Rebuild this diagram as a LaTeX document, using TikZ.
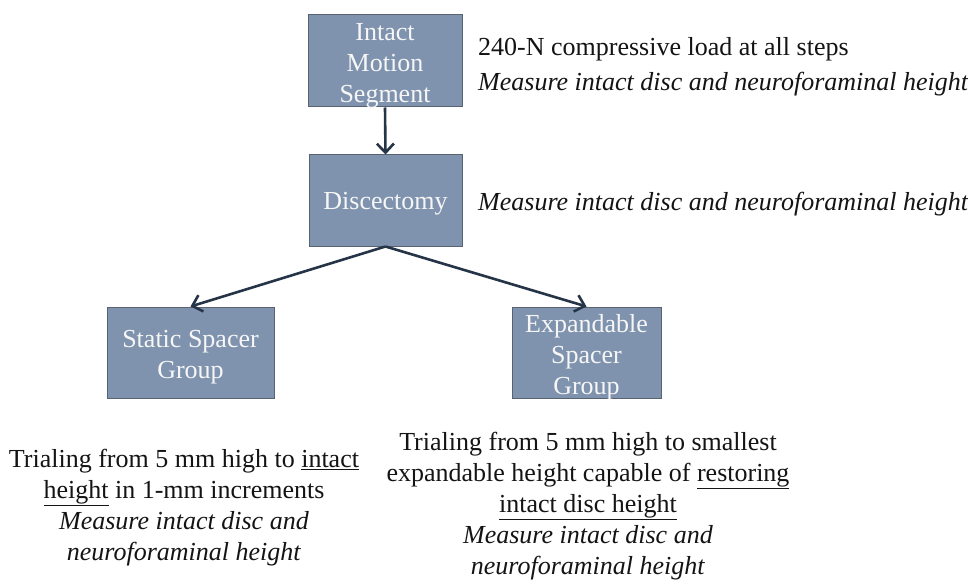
\documentclass[tikz,border=0pt]{standalone}
\usepackage{fontspec}
\setmainfont{Liberation Serif}
\usetikzlibrary{arrows.meta}
\definecolor{boxfill}{RGB}{127,147,175}
\definecolor{boxline}{RGB}{88,98,112}
\definecolor{arrowc}{RGB}{38,52,72}
\definecolor{boxtext}{RGB}{246,246,246}
\definecolor{bodytext}{RGB}{20,20,20}
\begin{document}
\begin{tikzpicture}[x=1pt,y=-1pt,
  stepbox/.style={draw=boxline, line width=1pt, fill=boxfill,
    inner sep=0pt, minimum height=91pt},
  boxlabel/.style={text=boxtext, align=center, inner sep=0pt, yshift=-5pt,
    font=\fontsize{26}{31}\selectfont},
  note/.style={text=bodytext, inner sep=0pt, font=\fontsize{26}{31}\selectfont},
  link/.style={draw=arrowc, line width=2.6pt, -{Straight Barb[length=9pt,width=17pt,line width=2.6pt]}}]
\useasboundingbox (0,0) rectangle (968,580);
\fill[white] (0,0) rectangle (968,580);

\node[stepbox, minimum width=154pt, minimum height=92pt,
  label={[boxlabel]center:Intact\\Motion\\Segment}] (b1) at (385,61) {};
\node[stepbox, minimum width=153pt,
  label={[boxlabel, yshift=2pt]center:Discectomy}] (b2) at (385.5,200.5) {};
\node[stepbox, minimum width=167pt,
  label={[boxlabel]center:Static Spacer\\Group}] (b3) at (190.5,352.5) {};
\node[stepbox, minimum width=149pt,
  label={[boxlabel]center:Expandable\\Spacer\\Group}] (b4) at (586.5,352.5) {};

\draw[link] (b1.south) -- (b2.north);
\draw[link] (b2.south) -- (b3.north);
\draw[link] (b2.south) -- (b4.north);

\node[note, align=left, anchor=north west, font=\fontsize{26}{35}\selectfont] (t1) at (478,37)
  {240-N compressive load at all steps\\\textit{Measure intact disc and neuroforaminal height}};
\node[note, anchor=west] (t2) at (478,204) {\textit{Measure intact disc and neuroforaminal height}};
\node[note, align=center, anchor=north] (t3) at (184,449)
  {Trialing from 5 mm high to \underline{intact}\\\underline{height} in 1-mm increments\\\textit{Measure intact disc and}\\\textit{neuroforaminal height}};
\node[note, align=center, anchor=north] (t4) at (588,432)
  {Trialing from 5 mm high to smallest\\expandable height capable of \underline{restoring}\\\underline{intact disc height}\\\textit{Measure intact disc and}\\\textit{neuroforaminal height}};
\end{tikzpicture}
\end{document}
